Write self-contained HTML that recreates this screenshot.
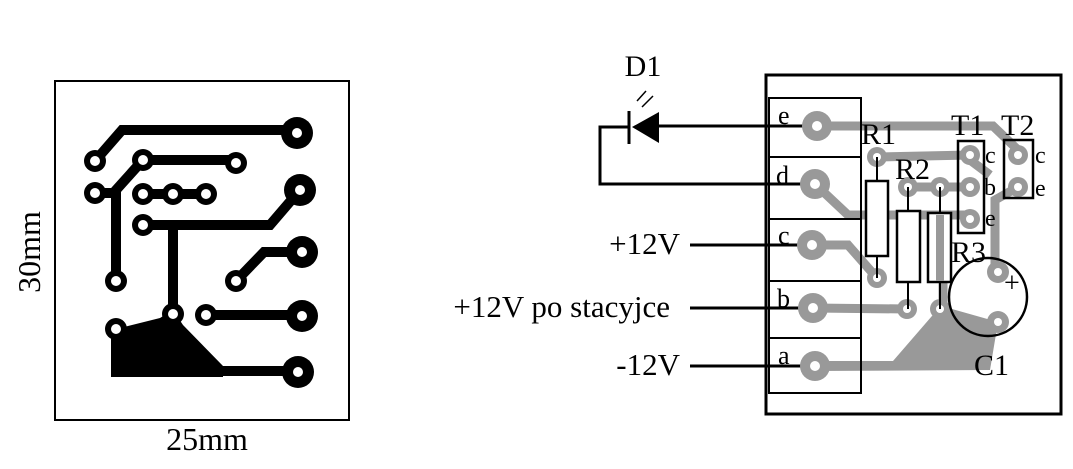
<!DOCTYPE html>
<html><head><style>
html,body{margin:0;padding:0;background:#fff;width:1073px;height:469px;overflow:hidden}
svg text{font-family:"Liberation Serif",serif;fill:#000}
</style></head><body>
<svg width="1073" height="469" viewBox="0 0 1073 469">
<!-- LEFT PCB -->
<rect x="55" y="81" width="294" height="339" fill="none" stroke="#000" stroke-width="2"/>
<g stroke="#000" stroke-width="10" fill="none" stroke-linejoin="miter">
<polyline points="95,161 122,130 297,130"/>
<polyline points="143,160 236,160"/>
<polyline points="143,160 116,190 116,281"/>
<polyline points="95,193 116,193"/>
<polyline points="143,194 206,194"/>
<polyline points="143,225 270,225 300,190"/>
<polyline points="173,225 173,314"/>
<polyline points="236,281 264,252 302,252"/>
<polyline points="206,315 302,315"/>
<polyline points="223,371 298,371"/>
</g>
<polygon points="116,329 160,318 173,310 183,325 223,366 223,377 111,377 111,335" fill="#000"/>
<g fill="#000">
<circle cx="297" cy="133" r="16"/><circle cx="300" cy="190" r="16"/><circle cx="302" cy="252" r="16"/><circle cx="302" cy="316" r="16"/><circle cx="298" cy="372" r="16"/>
<circle cx="95" cy="161" r="11"/><circle cx="143" cy="160" r="11"/><circle cx="236" cy="163" r="11"/><circle cx="95" cy="193" r="11"/><circle cx="143" cy="194" r="11"/><circle cx="173" cy="194" r="11"/><circle cx="206" cy="194" r="11"/><circle cx="143" cy="225" r="11"/><circle cx="116" cy="281" r="11"/><circle cx="236" cy="281" r="11"/><circle cx="206" cy="315" r="11"/><circle cx="173" cy="314" r="11"/><circle cx="116" cy="329" r="11"/>
</g>
<g fill="#fff">
<circle cx="297" cy="133" r="5"/><circle cx="300" cy="190" r="5"/><circle cx="302" cy="252" r="5"/><circle cx="302" cy="316" r="5"/><circle cx="298" cy="372" r="5"/>
<circle cx="95" cy="161" r="5"/><circle cx="143" cy="160" r="5"/><circle cx="236" cy="163" r="5"/><circle cx="95" cy="193" r="5"/><circle cx="143" cy="194" r="5"/><circle cx="173" cy="194" r="5"/><circle cx="206" cy="194" r="5"/><circle cx="143" cy="225" r="5"/><circle cx="116" cy="281" r="5"/><circle cx="236" cy="281" r="5"/><circle cx="206" cy="315" r="5"/><circle cx="173" cy="314" r="5"/><circle cx="116" cy="329" r="5"/>
</g>
<text x="207" y="450" font-size="32" text-anchor="middle">25mm</text>
<text transform="translate(40,252) rotate(-90)" font-size="32" text-anchor="middle">30mm</text>

<!-- D1 -->
<text x="643" y="76" font-size="30" text-anchor="middle">D1</text>
<polygon points="632,127 659,112 659,143" fill="#000"/>
<line x1="629" y1="111" x2="629" y2="144" stroke="#000" stroke-width="3"/>
<g stroke="#000" stroke-width="1.5"><line x1="637" y1="101" x2="646" y2="91"/><line x1="642" y1="107" x2="653" y2="96"/></g>
<polyline points="659,126 817,126" stroke="#000" stroke-width="3" fill="none"/>
<polyline points="629,127 600,127 600,184 815,184" stroke="#000" stroke-width="3" fill="none"/>
<text x="680" y="254" font-size="31" text-anchor="end">+12V</text>
<line x1="690" y1="245" x2="812" y2="245" stroke="#000" stroke-width="3"/>
<text x="670" y="317" font-size="31" text-anchor="end">+12V po stacyjce</text>
<line x1="690" y1="308" x2="813" y2="308" stroke="#000" stroke-width="3"/>
<text x="680" y="375" font-size="31" text-anchor="end">-12V</text>
<line x1="690" y1="366" x2="815" y2="366" stroke="#000" stroke-width="3"/>

<!-- RIGHT PCB -->
<rect x="766" y="75" width="295" height="339" fill="none" stroke="#000" stroke-width="3"/>
<g stroke="#999" stroke-width="9" fill="none">
<polyline points="817,126 993,126 1018,150"/>
<polyline points="877,157 970,155"/>
<polyline points="908,187 970,187"/>
<polyline points="815,184 848,215 975,215"/>
<polyline points="1018,187 995,200 995,272"/>
<polyline points="812,245 848,245 877,278"/>
<polyline points="813,308 907,309"/>
<polyline points="943,215 943,309"/>
<polyline points="970,160 990,175"/>
</g>
<polygon points="815,361 893,361 938,309 952,309 998,322 990,370 815,371" fill="#999"/>
<g fill="#999">
<circle cx="817" cy="126" r="15"/><circle cx="815" cy="184" r="15"/><circle cx="812" cy="245" r="15"/><circle cx="813" cy="308" r="15"/><circle cx="815" cy="366" r="15"/>
<circle cx="877" cy="157" r="10"/><circle cx="877" cy="278" r="10"/><circle cx="908" cy="187" r="10"/><circle cx="907" cy="309" r="10"/><circle cx="940" cy="187" r="10"/><circle cx="940" cy="309" r="10"/>
<circle cx="970" cy="155" r="10"/><circle cx="970" cy="187" r="10"/><circle cx="970" cy="219" r="10"/><circle cx="1018" cy="155" r="10"/><circle cx="1018" cy="187" r="10"/>
<circle cx="998" cy="272" r="11"/><circle cx="998" cy="322" r="11"/>
</g>
<g fill="#fff">
<circle cx="817" cy="126" r="5"/><circle cx="815" cy="184" r="5"/><circle cx="812" cy="245" r="5"/><circle cx="813" cy="308" r="5"/><circle cx="815" cy="366" r="5"/>
<circle cx="877" cy="157" r="4"/><circle cx="877" cy="278" r="4"/><circle cx="908" cy="187" r="4"/><circle cx="907" cy="309" r="4"/><circle cx="940" cy="187" r="4"/><circle cx="940" cy="309" r="4"/>
<circle cx="970" cy="155" r="4"/><circle cx="970" cy="187" r="4"/><circle cx="970" cy="219" r="4"/><circle cx="1018" cy="155" r="4"/><circle cx="1018" cy="187" r="4"/>
<circle cx="998" cy="272" r="4"/><circle cx="998" cy="322" r="4"/>
</g>
<!-- terminal block -->
<g fill="none" stroke="#000" stroke-width="2">
<rect x="769" y="98" width="92" height="295"/>
<line x1="769" y1="157" x2="861" y2="157"/><line x1="769" y1="219" x2="861" y2="219"/><line x1="769" y1="281" x2="861" y2="281"/><line x1="769" y1="338" x2="861" y2="338"/>
</g>
<g font-size="26"><text x="778" y="124">e</text><text x="776" y="184">d</text><text x="778" y="244">c</text><text x="777" y="307">b</text><text x="778" y="364">a</text></g>
<!-- resistors -->
<g stroke="#000" stroke-width="2" fill="none">
<line x1="877" y1="157" x2="877" y2="181"/><line x1="877" y1="256" x2="877" y2="278"/>
<line x1="908" y1="187" x2="908" y2="211"/><line x1="908" y1="282" x2="908" y2="309"/>
<line x1="940" y1="187" x2="940" y2="213"/><line x1="940" y1="282" x2="940" y2="309"/>
</g>
<g stroke="#000" stroke-width="2.5" fill="#fff">
<rect x="866" y="181" width="22" height="75"/>
<rect x="897" y="211" width="23" height="71"/>
</g>
<rect x="928" y="213" width="23" height="69" stroke="#000" stroke-width="2.5" fill="#fff"/>
<line x1="940" y1="215" x2="940" y2="281" stroke="#999" stroke-width="8"/>
<!-- transistors -->
<g stroke="#000" stroke-width="2.5" fill="none">
<rect x="958" y="141" width="26" height="92"/>
<rect x="1004" y="140" width="29" height="58"/>
<circle cx="988" cy="297" r="39"/>
</g>
<g font-size="30">
<text x="861" y="144">R1</text><text x="895" y="179">R2</text><text x="951" y="262">R3</text>
<text x="951" y="135">T1</text><text x="1001" y="135">T2</text><text x="974" y="375">C1</text>
</g>
<g font-size="24"><text x="985" y="163">c</text><text x="984" y="195">b</text><text x="985" y="226">e</text><text x="1035" y="163">c</text><text x="1035" y="196">e</text></g>
<text x="1004" y="292" font-size="28">+</text>
</svg>
</body></html>
